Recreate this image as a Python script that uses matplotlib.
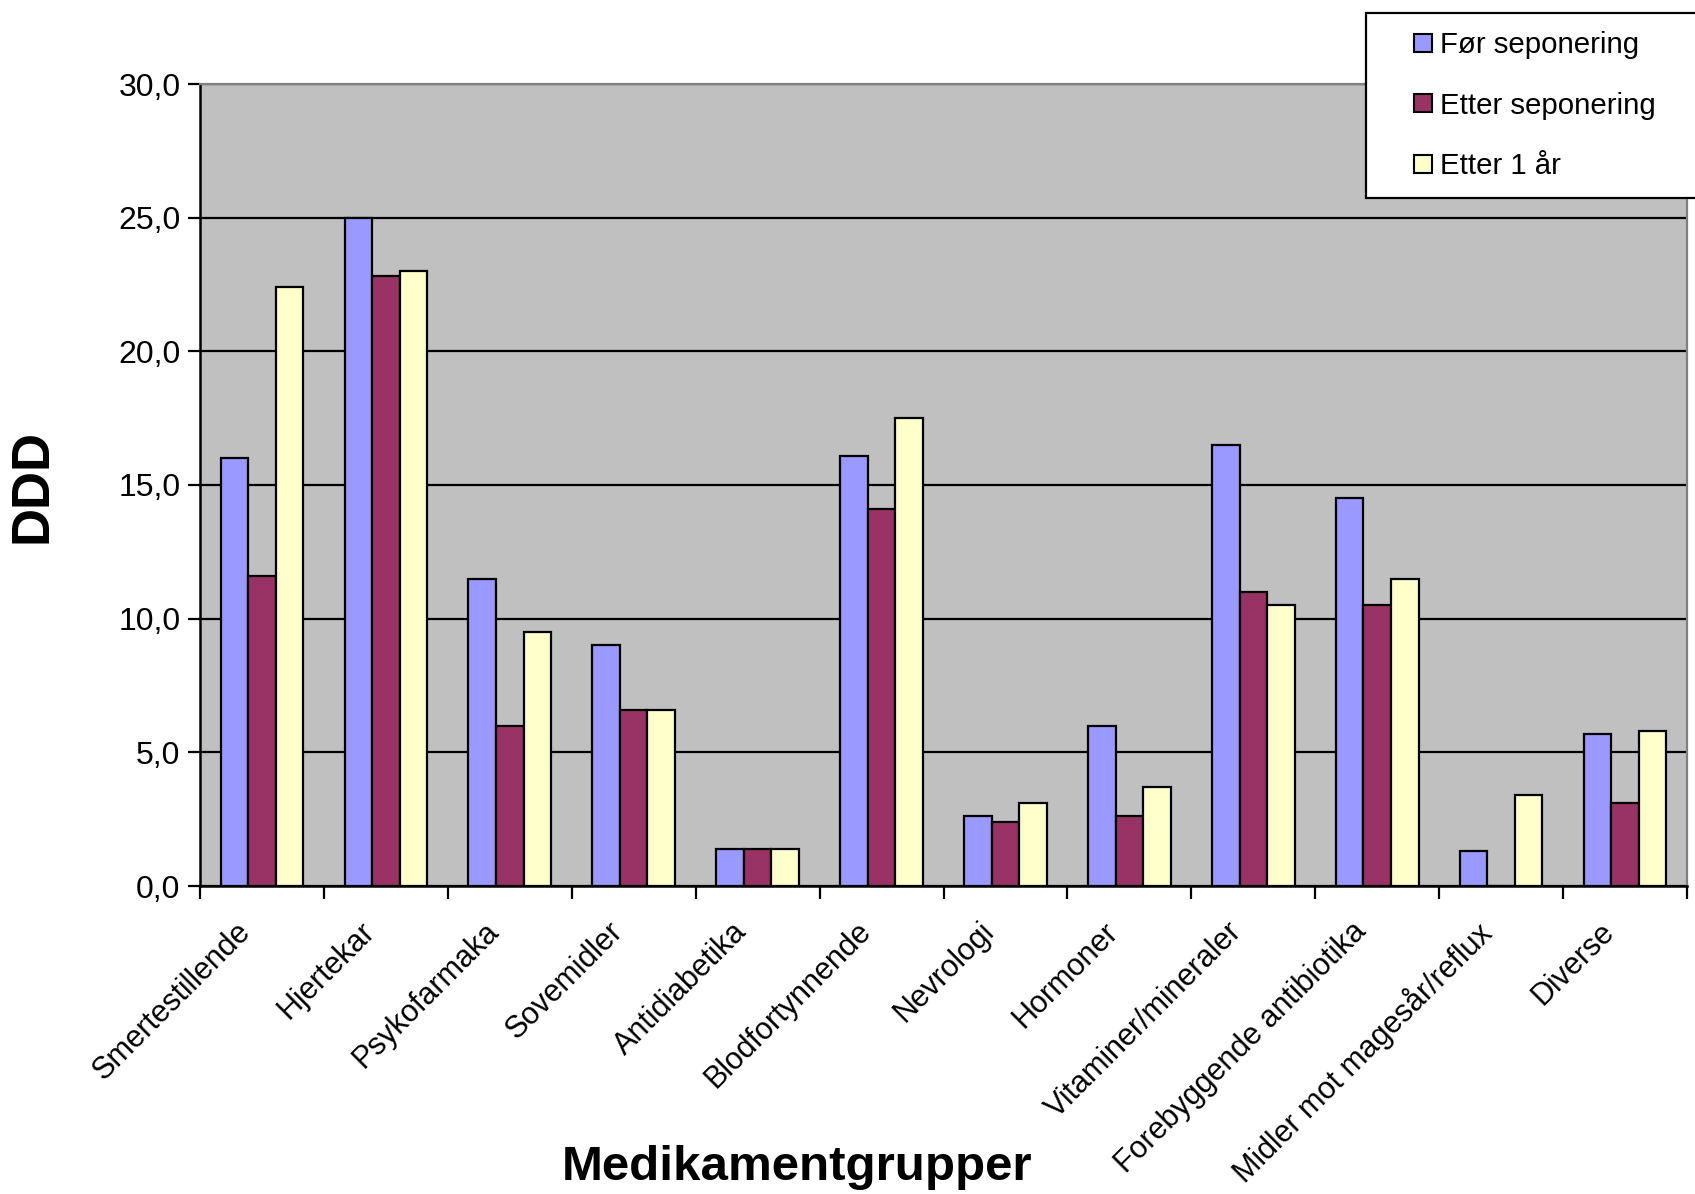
import matplotlib
matplotlib.use("Agg")
import matplotlib.pyplot as plt
import matplotlib.transforms as mtransforms
import numpy as np
from matplotlib.lines import Line2D
from matplotlib.ticker import FixedLocator

plt.rcParams['font.family'] = ['Liberation Sans', 'DejaVu Sans']

categories = ["Smertestillende", "Hjertekar", "Psykofarmaka", "Sovemidler",
              "Antidiabetika", "Blodfortynnende", "Nevrologi", "Hormoner",
              "Vitaminer/mineraler", "Forebyggende antibiotika",
              "Midler mot magesår/reflux", "Diverse"]
series_names = ["Før seponering", "Etter seponering", "Etter 1 år"]
for_seponering = [16.0, 25.0, 11.5, 9.0, 1.4, 16.1, 2.6, 6.0, 16.5, 14.5, 1.3, 5.7]
etter_seponering = [11.6, 22.8, 6.0, 6.6, 1.4, 14.1, 2.4, 2.6, 11.0, 10.5, 0.0, 3.1]
etter_1_aar = [22.4, 23.0, 9.5, 6.6, 1.4, 17.5, 3.1, 3.7, 10.5, 11.5, 3.4, 5.8]
yticks = [0, 5, 10, 15, 20, 25, 30]
ytick_labels = ["0,0", "5,0", "10,0", "15,0", "20,0", "25,0", "30,0"]

colors = ["#9999FF", "#993366", "#FFFFCC"]
series = [for_seponering, etter_seponering, etter_1_aar]

fig = plt.figure(figsize=(16.95, 11.94), dpi=100)
ax = fig.add_axes([200/1695, 1 - 886/1194, (1687-200)/1695, (886-84)/1194])
ax.set_facecolor("#C0C0C0")

n = len(categories)
x = np.arange(n)
bw = (2/3) / 3
for i, (vals, c) in enumerate(zip(series, colors)):
    ax.bar(x + (i - 1) * bw, vals, width=bw, color=c, edgecolor="black",
           linewidth=1.6, zorder=3)

ax.set_xlim(-0.5, n - 0.5)
ax.set_ylim(0, 30)
ax.set_yticks(yticks)
ax.set_yticklabels(ytick_labels, fontsize=23)
ax.yaxis.grid(True, color="black", linewidth=1.6, zorder=1)
ax.set_axisbelow(True)
ax.tick_params(axis="y", length=9, width=1.6, direction="out", pad=5)

ax.set_xticks(x)
ax.set_xticklabels(categories, fontsize=22, rotation=45, ha="right",
                   va="top", rotation_mode="anchor")
ax.tick_params(axis="x", which="major", length=0, pad=22)
shift = mtransforms.ScaledTranslation(-0.26, 0, fig.dpi_scale_trans)
for lbl in ax.get_xticklabels():
    lbl.set_transform(lbl.get_transform() + shift)
ax.xaxis.set_minor_locator(FixedLocator(np.arange(n + 1) - 0.5))
ax.tick_params(axis="x", which="minor", length=9, width=1.6, direction="out")

for side in ["left", "bottom"]:
    ax.spines[side].set_color("black")
    ax.spines[side].set_linewidth(1.8)
for side in ["top", "right"]:
    ax.spines[side].set_color("#808080")
    ax.spines[side].set_linewidth(1.6)

fig.text(33/1695, 1 - 486/1194, "DDD", rotation=90, fontsize=38,
         fontweight="bold", ha="center", va="center")
fig.text(797/1695, 1 - 1167/1194, "Medikamentgrupper", fontsize=35.5,
         fontweight="bold", ha="center", va="center")

handles = [Line2D([], [], linestyle="none", marker="s", markersize=12.5,
                  markerfacecolor=c, markeredgecolor="black",
                  markeredgewidth=1.5) for c in colors]
leg = fig.legend(handles, series_names, loc="upper left",
                 bbox_to_anchor=(1366/1695, 1 - 13/1194, 400/1695, 0.0),
                 mode="expand", fontsize=21.2, frameon=True, fancybox=False,
                 framealpha=1.0, handlelength=2.6, handletextpad=-0.7,
                 labelspacing=1.1, borderpad=0.62, borderaxespad=0.0)
leg.get_frame().set_edgecolor("black")
leg.get_frame().set_linewidth(1.6)
leg.get_frame().set_facecolor("white")
leg._legend_box.align = "left"

fig.savefig("out.png", dpi=100, facecolor="white")
